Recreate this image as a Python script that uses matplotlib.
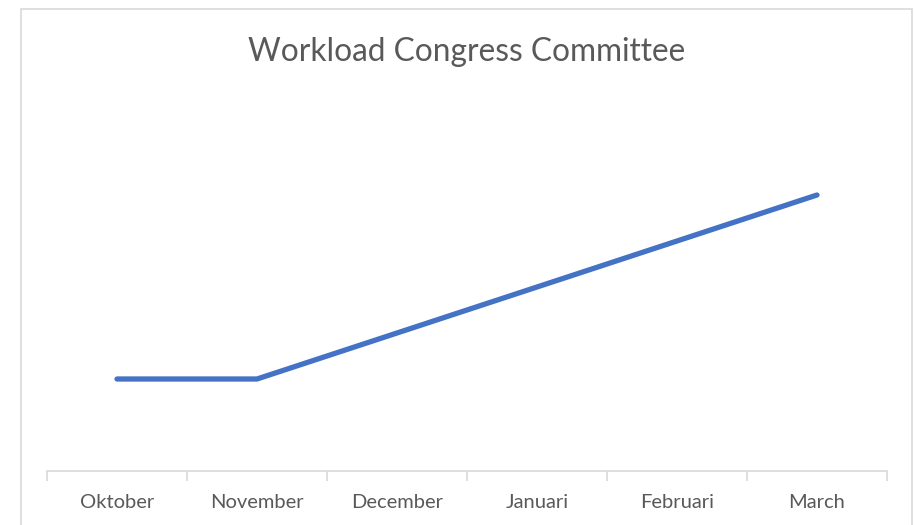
import matplotlib.pyplot as plt
import numpy as np
from matplotlib.patches import Rectangle

# --- data ---
months = ['Oktober', 'November', 'December', 'Januari', 'Februari', 'March']
workload = [2, 2, 3, 4, 5, 6]

fig = plt.figure(figsize=(9.15, 5.25), dpi=100)
W, H = 915, 525

# chart border (light gray frame)
fig.patches.append(Rectangle((21 / W, -0.05), (912 - 21) / W, 1.05 - 9 / H,
                             transform=fig.transFigure, fill=False,
                             edgecolor='#D9D9D9', linewidth=1.2))

ax = fig.add_axes([47 / W, 1 - 471 / H, (887 - 47) / W, (471 - 149) / H])
x = np.arange(len(months))
ax.plot(x, workload, color='#4472C4', linewidth=3.8, solid_capstyle='round',
        solid_joinstyle='round')

ax.set_xlim(-0.5, len(months) - 0.5)
ax.set_ylim(0, 7)

for s in ['top', 'right', 'left']:
    ax.spines[s].set_visible(False)
ax.spines['bottom'].set_color('#D9D9D9')
ax.spines['bottom'].set_linewidth(1.2)

ax.set_yticks([])
ax.set_xticks(x)
ax.set_xticklabels(months, fontsize=14.5, color='#595959', family='Lato')
ax.tick_params(axis='x', which='major', length=0, pad=16.5)
ax.set_xticks(np.arange(-0.5, len(months)), minor=True)
ax.tick_params(axis='x', which='minor', length=7, width=1.2, color='#D9D9D9')

fig.text(467 / W, 1 - 52 / H, 'Workload Congress Committee', ha='center',
         va='center', fontsize=22.8, color='#595959', family='Lato')

fig.savefig('out.png', dpi=100)
